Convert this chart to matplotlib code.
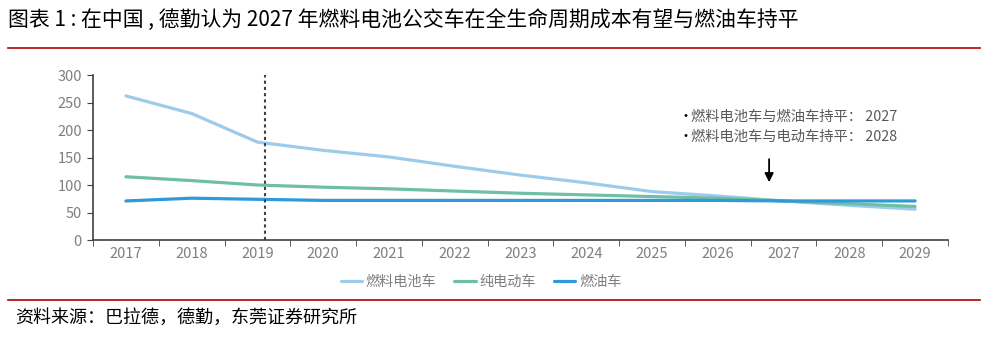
import matplotlib
matplotlib.use("Agg")
import matplotlib.pyplot as plt

plt.rcParams['font.family'] = ['Noto Sans CJK SC', 'DejaVu Sans']

years = ['2017', '2018', '2019', '2020', '2021', '2022', '2023', '2024', '2025', '2026', '2027', '2028', '2029']
fuel_cell = [262, 230, 178, 163, 151, 134, 118, 104, 88, 80, 71, 63, 56]
battery_ev = [115, 108, 100, 96, 93, 89, 85, 82, 79, 76, 71, 66, 61]
diesel = [71, 76, 74, 72, 72, 72, 72, 72, 72, 72, 71, 71, 71]
series_names = ['燃料电池车', '纯电动车', '燃油车']
y_ticks = [0, 50, 100, 150, 200, 250, 300]
notes = ['燃料电池车与燃油车持平： 2027', '燃料电池车与电动车持平： 2028']
title = '图表 1 : 在中国 , 德勤认为 2027 年燃料电池公交车在全生命周期成本有望与燃油车持平'
source = '资料来源：巴拉德，德勤，东莞证券研究所'

W, H = 1007, 354
fig = plt.figure(figsize=(W / 100, H / 100), dpi=100)
ax = fig.add_axes([93 / W, (H - 240) / H, 855 / W, 165 / H])

x = list(range(len(years)))
colors = ['#9DCBEA', '#6FBFA5', '#2E9AD8']
for vals, c, name in zip([fuel_cell, battery_ev, diesel], colors, series_names):
    ax.plot(x, vals, color=c, lw=2.3, label=name, solid_capstyle='round')

ax.axvline(2.11, ymin=0, ymax=1, color='#404040', ls=(0, (1.5, 1.5)), lw=1.5)

ax.set_xlim(-0.5, len(years) - 0.5)
ax.set_ylim(0, 300)
ax.set_yticks(y_ticks)
ax.set_xticks(x)
ax.set_xticklabels(years)
ax.set_xticks([i - 0.5 for i in range(len(years) + 1)], minor=True)
ax.tick_params(axis='x', which='major', length=0, pad=5, labelsize=10.5, labelcolor='#7F7F7F')
ax.tick_params(axis='x', which='minor', length=4, color='#404040', direction='out')
ax.tick_params(axis='y', length=4, color='#404040', labelsize=10.5, labelcolor='#7F7F7F', pad=4)
for s in ['top', 'right']:
    ax.spines[s].set_visible(False)
for s in ['left', 'bottom']:
    ax.spines[s].set_color('#404040')
    ax.spines[s].set_linewidth(1.2)

# annotations
for i, t in enumerate(notes):
    yy = (H - 117 - i * 20) / H
    fig.text(679 / W, yy, '•', color='black', fontsize=10, va='center', ha='left')
    fig.text(691 / W, yy, t, color='#595959', fontsize=10.3, va='center', ha='left')
ax.annotate('', xy=(9.78, 100), xytext=(9.78, 152),
            arrowprops=dict(arrowstyle='-|>', color='black', lw=1.3, mutation_scale=13))

# legend
leg = fig.legend(loc='center', bbox_to_anchor=(481 / W, (H - 282) / H), ncol=3, frameon=False,
                 fontsize=10.2, handlelength=1.5, handletextpad=0.25, columnspacing=1.3)
for t in leg.get_texts():
    t.set_color('#7F7F7F')

fig.text(8 / W, (H - 20) / H, title, fontsize=15, va='center', ha='left', color='black')
fig.add_artist(plt.Line2D([8 / W, 980 / W], [(H - 48) / H] * 2, color='#B00000', lw=1.2))
fig.add_artist(plt.Line2D([8 / W, 980 / W], [(H - 300) / H] * 2, color='#B00000', lw=1.2))
fig.text(15 / W, (H - 318) / H, source, fontsize=13, va='center', ha='left', color='black')

fig.savefig('out.png', dpi=100)
